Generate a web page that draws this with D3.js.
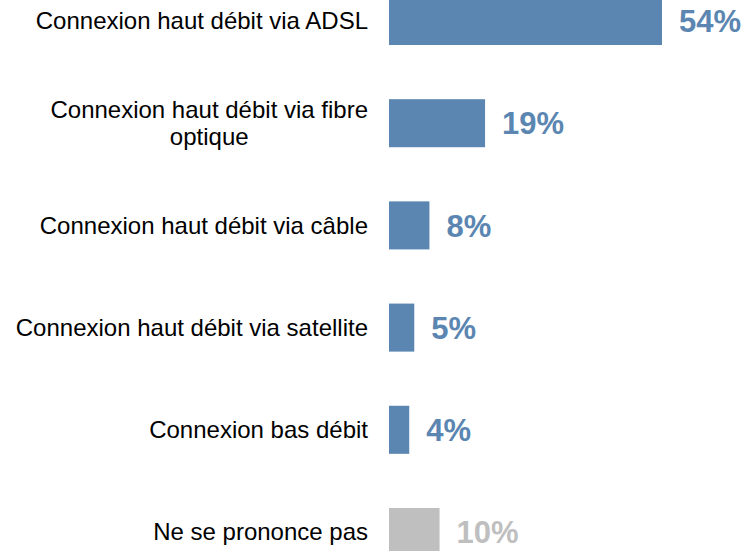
<!DOCTYPE html>
<html>
<head>
<meta charset="utf-8">
<script src="https://cdn.jsdelivr.net/npm/d3@7"></script>
<style>
  html, body { margin: 0; padding: 0; background: #ffffff; }
  svg { display: block; }
</style>
</head>
<body>
<div id="chart"></div>
<script>
const categories = [
    ["Connexion haut débit via ADSL"],
    ["Connexion haut débit via fibre", "optique"],
    ["Connexion haut débit via câble"],
    ["Connexion haut débit via satellite"],
    ["Connexion bas débit"],
    ["Ne se prononce pas"]
];
const values = [54, 19, 8, 5, 4, 10];
const valueLabels = ["54%", "19%", "8%", "5%", "4%", "10%"];
const barColors = ["#5b86b1", "#5b86b1", "#5b86b1", "#5b86b1", "#5b86b1", "#bfbfbf"];

function drawChart() {
    const width = 752;
    const height = 551;
    const barLeft = 389;
    const labelRight = 368;

    const svg = d3.select("#chart")
        .append("svg")
        .attr("width", width)
        .attr("height", height);

    const x = d3.scaleLinear()
        .domain([0, 54])
        .range([barLeft, 662]);

    const y = d3.scaleBand()
        .domain(d3.range(values.length))
        .range([-30.1, 583.1])
        .paddingInner(0.53)
        .paddingOuter(0.265);

    const rows = svg.selectAll(".row")
        .data(values)
        .enter()
        .append("g")
        .attr("class", "row");

    rows.append("rect")
        .attr("x", x(0))
        .attr("y", (d, i) => y(i))
        .attr("width", d => x(d) - x(0))
        .attr("height", y.bandwidth())
        .attr("fill", (d, i) => barColors[i]);

    rows.append("text")
        .attr("x", d => x(d) + 17)
        .attr("y", (d, i) => y(i) + y.bandwidth() / 2)
        .attr("dy", "0.36em")
        .style("font-family", "Arial, 'Liberation Sans', sans-serif")
        .style("font-size", "31px")
        .style("font-weight", "700")
        .style("fill", (d, i) => barColors[i])
        .text((d, i) => valueLabels[i]);

    // category labels, multi-line ones centred on their longest line
    rows.each(function(d, i) {
        const lines = categories[i];
        const g = d3.select(this);
        const lineHeight = 27;
        const cy = y(i) + y.bandwidth() / 2;
        const label = g.append("text")
            .style("font-family", "Arial, 'Liberation Sans', sans-serif")
            .style("font-size", "24px")
            .style("fill", "#000000");

        lines.forEach((line, k) => {
            label.append("tspan")
                .attr("y", cy + (k - (lines.length - 1) / 2) * lineHeight)
                .attr("dy", "0.34em")
                .text(line);
        });

        if (lines.length === 1) {
            label.attr("text-anchor", "end")
                .selectAll("tspan").attr("x", labelRight);
        } else {
            const spans = label.selectAll("tspan");
            const widest = d3.max(spans.nodes(), n => n.getComputedTextLength());
            label.attr("text-anchor", "middle");
            spans.attr("x", labelRight - widest / 2);
        }
    });
}

drawChart();
</script>
</body>
</html>
